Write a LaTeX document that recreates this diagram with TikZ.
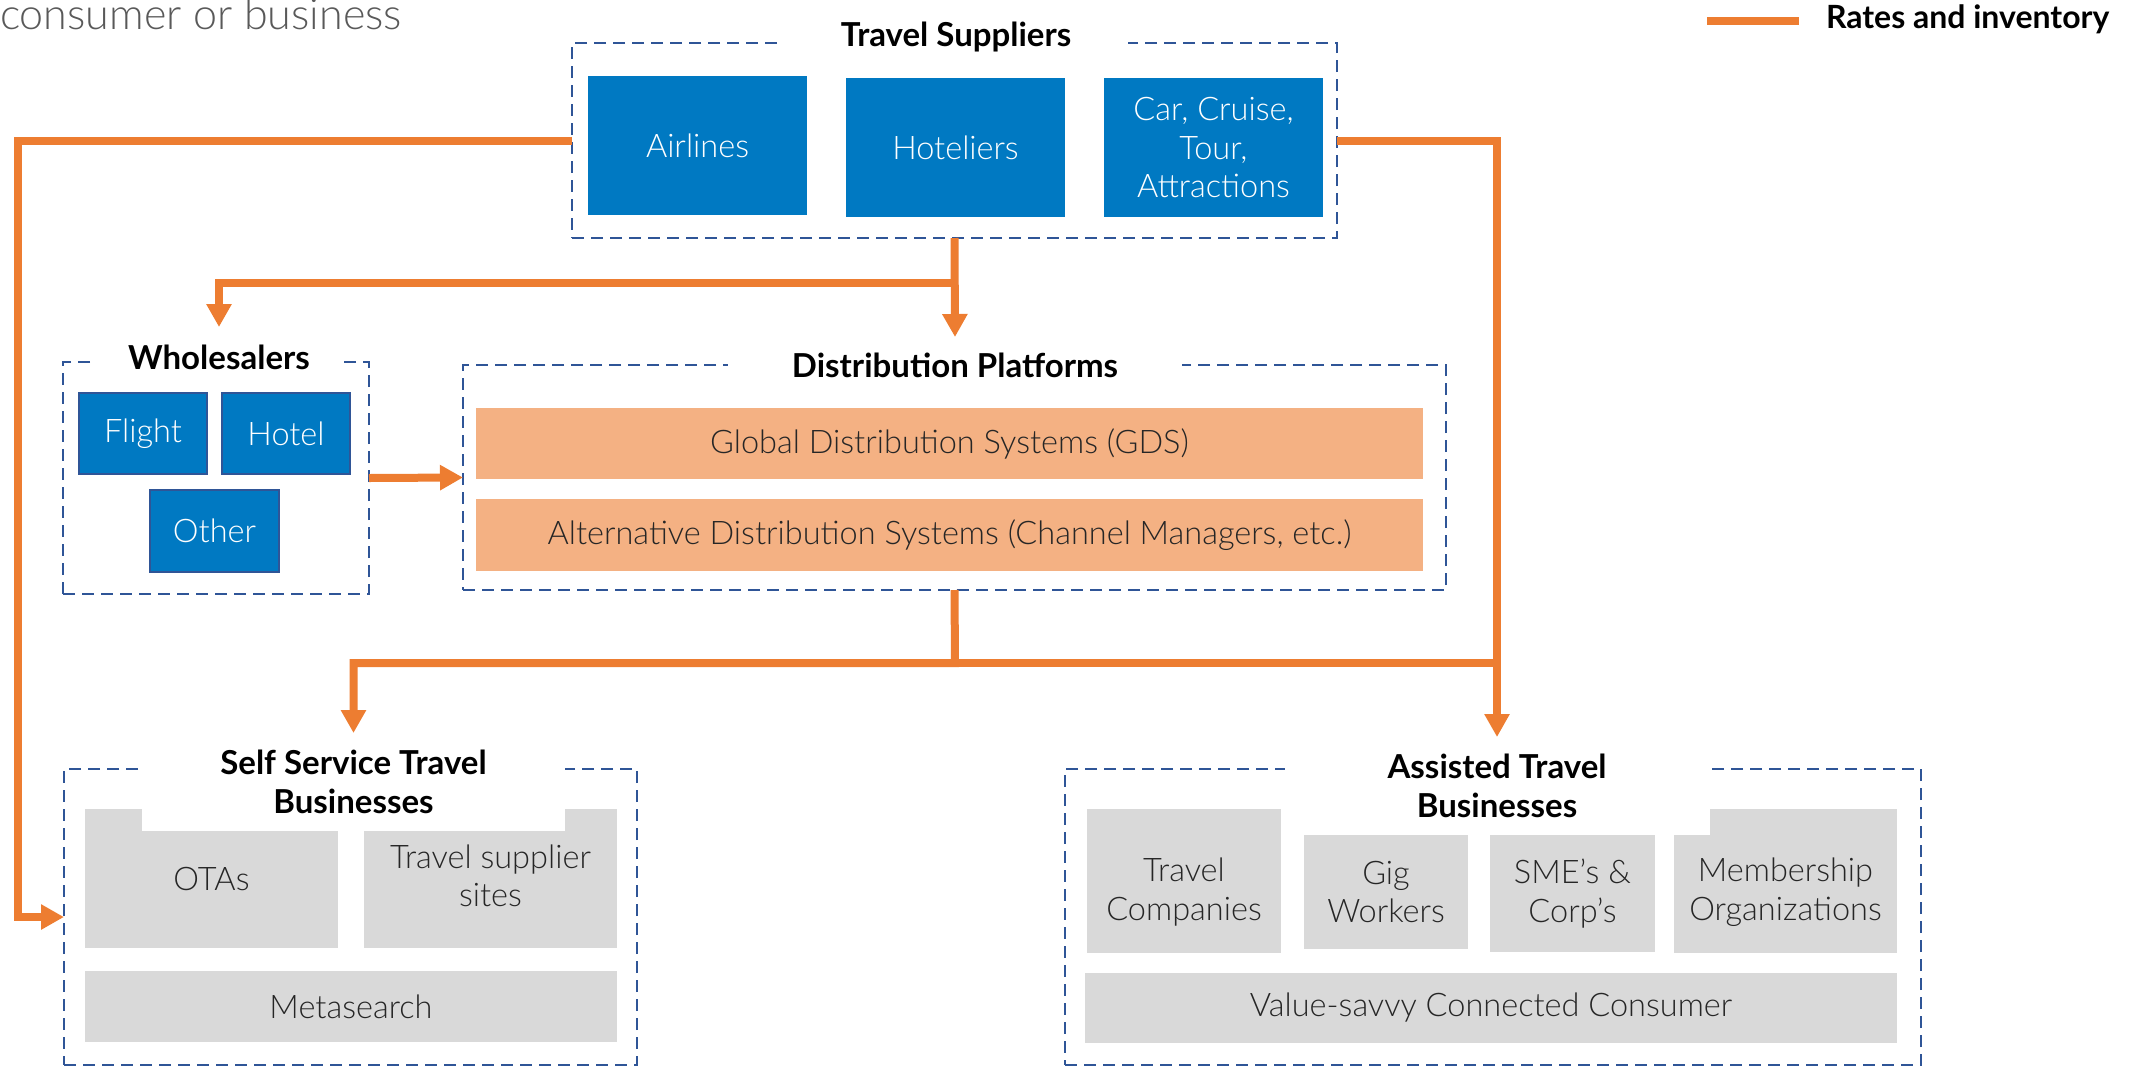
\documentclass[tikz,border=0pt]{standalone}
\usepackage{fontspec}
\setmainfont{Lato}[UprightFont={* Light},BoldFont={* Bold}]
\usetikzlibrary{arrows.meta}

\definecolor{supblue}{HTML}{0079C2}
\definecolor{edgeblue}{HTML}{2F5597}
\definecolor{flowor}{HTML}{ED7D31}
\definecolor{baror}{HTML}{F4B183}
\definecolor{panelgray}{HTML}{D9D9D9}
\definecolor{capgray}{HTML}{595959}
\definecolor{inktext}{HTML}{262626}

\newcommand{\bodysize}{\fontsize{32.5}{38.5}\selectfont}
\newcommand{\headsize}{\bfseries\fontsize{33}{38.5}\selectfont}

\begin{document}
\begin{tikzpicture}[x=1pt,y=-1pt,
  every node/.style={inner sep=0pt, outer sep=0pt},
  dims/.style 2 args={minimum width=#1pt, minimum height=#2pt},
  groupbox/.style={draw=edgeblue, line width=2.8pt, dash pattern=on 12pt off 7pt},
  bluebox/.style={fill=supblue, text=white, font=\bodysize, align=center},
  bluecell/.style={bluebox, draw=edgeblue, line width=2pt},
  graybox/.style={fill=panelgray, text=inktext, font=\bodysize, align=center},
  barbox/.style={fill=baror, text=inktext, font=\bodysize, align=center},
  headbox/.style={fill=white, text=black, font=\headsize, align=center},
  txt/.style={text=inktext, font=\bodysize, align=center},
  flow/.style={draw=flowor, line width=8pt, -{Triangle[length=23pt,width=24pt]}},
  plainflow/.style={draw=flowor, line width=8pt}
]
\useasboundingbox (0,0) rectangle (2138,1066);

% corner caption and legend
\node[anchor=base west, text=capgray, font=\fontsize{43}{50}\selectfont] (caption) at (0,29) {consumer or business};
\coordinate (legA) at (1707,21);
\coordinate (legB) at (1799,21);
\draw[plainflow] (legA) -- (legB);
\node[anchor=west, font=\bfseries\fontsize{32}{38}\selectfont] (legtext) at (1826,19) {Rates and inventory};

% travel suppliers
\node[groupbox, dims={765}{195}] (ts) at (954.5,140.5) {};
\node[bluebox, dims={219}{139}] (air) at (697.5,145.5) {Airlines};
\node[bluebox, dims={219}{139}] (hot) at (955.5,147.5) {Hoteliers};
\node[bluebox, dims={219}{139}] (car) at (1213.5,147.5) {Car, Cruise,\\Tour,\\Attractions};
\node[headbox, dims={344}{40}] (tstitle) at (956,37) {Travel Suppliers};

% wholesalers
\node[groupbox, dims={306}{232}] (wh) at (216,478) {};
\node[bluecell, dims={128}{81}] (flight) at (143,433.5) {Flight};
\node[bluecell, dims={128}{81}] (hotel) at (286,433.5) {Hotel};
\node[bluecell, dims={129}{82}] (other) at (214.5,531) {Other};
\node[headbox, dims={250}{60}] (whtitle) at (219,357) {Wholesalers};

% distribution platforms
\node[groupbox, dims={983}{225}] (dist) at (954.5,477.5) {};
\node[barbox, dims={947}{71}] (gds) at (949.5,443.5) {Global Distribution Systems (GDS)};
\node[barbox, dims={947}{72}] (ads) at (949.5,535) {Alternative Distribution Systems (Channel Managers, etc.)};
\node[headbox, dims={454}{56}] (dtitle) at (955,365) {Distribution Platforms};

% self service travel businesses
\node[groupbox, dims={573}{296}] (ss) at (350.5,917) {};
\node[graybox, dims={253}{139}] (ota) at (211.5,878.5) {OTAs};
\node[graybox, dims={253}{139}] (tss) at (490.5,878.5) {};
\node[txt] (tsstxt) at (490.5,876) {Travel supplier\\sites};
\node[graybox, dims={532}{71}] (meta) at (351,1006.5) {Metasearch};
\node[headbox, dims={423}{98}] (sstitle) at (353.5,782) {Self Service Travel\\Businesses};

% assisted travel businesses
\node[groupbox, dims={856}{296}] (as) at (1493,917) {};
\node[graybox, dims={194}{144}] (tc) at (1184,881) {};
\node[txt] (tctxt) at (1184,892) {Travel\\Companies};
\node[graybox, dims={164}{114}] (gig) at (1386,892) {Gig\\Workers};
\node[graybox, dims={165}{117}] (sme) at (1572.5,893.5) {SME’s \&\\Corp’s};
\node[graybox, dims={223}{144}] (mem) at (1785.5,881) {};
\node[txt] (memtxt) at (1785.5,892) {Membership\\Organizations};
\node[graybox, dims={812}{70}] (vsc) at (1491,1008) {Value-savvy Connected Consumer};
\node[headbox, dims={425}{98}] (astitle) at (1497,786) {Assisted Travel\\Businesses};

% rates and inventory flows
\coordinate (lbend) at (18,140.5);
\coordinate (tj) at (955,283);
\coordinate (dj) at (955,663);
\coordinate (aj) at (1497,663);

\draw[flow] (ts.west) -- (lbend) |- (ss.west);
\draw[flow] (ts.east) -| (astitle.north);
\draw[flow] (ts.south) -- (dtitle.north);
\draw[flow] (tj) -| (whtitle.north);
\draw[flow] (wh.east) -- (dist.west);
\draw[flow] (dist.south) -- (dj) -| (sstitle.north);
\draw[plainflow] (dj) -- (aj);
\end{tikzpicture}
\end{document}
